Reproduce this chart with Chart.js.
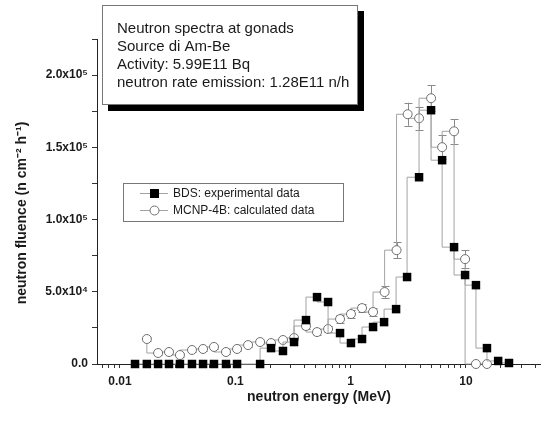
<!DOCTYPE html>
<html>
<head>
<meta charset="utf-8">
<script src="https://cdn.jsdelivr.net/npm/chart.js@4/dist/chart.umd.min.js"></script>
<style>
  html, body { margin: 0; padding: 0; background: #fff; }
  canvas { display: block; }
</style>
</head>
<body>
<canvas id="chart" width="541" height="423"></canvas>
<script>
// BDS: experimental data (black squares)
const bdsEnergy = [0.0135, 0.0171, 0.0214, 0.0266, 0.0331, 0.0421, 0.0525, 0.0653, 0.083, 0.1035,
  0.164, 0.204, 0.259, 0.323, 0.41, 0.511, 0.637, 0.809, 1.006, 1.255, 1.564, 1.949, 2.477,
  3.084, 3.918, 4.98, 6.21, 7.88, 9.82, 12.2, 15.2, 19.0, 23.6];
const bdsFluence = [0, 0, 0, 0, 0, 0, 0, 0, 0, 0,
  0, 11000, 9000, 15200, 30400, 46300, 42900, 21400, 14500, 17300, 25600, 29000, 38000,
  60200, 129300, 175700, 141100, 80900, 61600, 54600, 11000, 2100, 700];

// MCNP-4B: calculated data (open circles, with error bars)
const mcnpEnergy = [0.0171, 0.0214, 0.0266, 0.0331, 0.0421, 0.0525, 0.0653, 0.083, 0.1035, 0.129,
  0.164, 0.204, 0.259, 0.323, 0.41, 0.511, 0.637, 0.809, 1.006, 1.255, 1.564, 1.97, 2.5,
  3.12, 3.92, 4.98, 6.21, 7.88, 9.82, 12.2, 15.2];
const mcnpFluence = [17300, 7600, 8300, 6200, 9700, 10400, 11800, 8300, 10400, 13100,
  15200, 14500, 16600, 18000, 26300, 22100, 24200, 31100, 34600, 38700, 36000, 49800, 78800,
  172900, 170100, 184000, 150100, 161100, 72600, 0, 0];
const mcnpError = [1200, 1200, 1200, 1200, 1200, 1200, 1200, 1200, 1200, 1200,
  1200, 1500, 1500, 1500, 2000, 2000, 2000, 2500, 2500, 3000, 3000, 4000, 5500,
  8000, 8000, 9000, 8500, 8500, 6000, 0, 0];

const xMajorTicks = [0.01, 0.1, 1, 10];
const yMajorTicks = [0, 50000, 100000, 150000, 200000];
const yTickLabels = ['0.0', '5.0x10⁴', '1.0x10⁵', '1.5x10⁵', '2.0x10⁵'];

const infoLines = [
  'Neutron spectra at gonads',
  'Source di Am-Be',
  'Activity: 5.99E11 Bq',
  'neutron rate emission: 1.28E11 n/h'
];
const seriesNames = ['BDS: experimental data', 'MCNP-4B: calculated data'];
const xTitle = 'neutron energy (MeV)';
const yTitle = 'neutron fluence (n cm⁻² h⁻¹)';

const FONT = 'Liberation Sans, Arial, Helvetica, sans-serif';
const LINE_GREY = '#a3a3a3';
const CIRCLE_EDGE = '#6e6e6e';

// minor ticks for the log axis, 2..9 per decade
const xTickValues = [];
for (let d = -3; d <= 1; d++) {
  for (let m = 1; m <= 9; m++) {
    const v = m * Math.pow(10, d);
    if (v >= 0.0063 && v <= 44.7) xTickValues.push(+v.toPrecision(3));
  }
}

function isMajor(v) {
  return xMajorTicks.some(t => Math.abs(t - v) < t * 1e-6);
}

const errorBars = {
  id: 'errorBars',
  beforeDatasetDraw(chart, args) {
    if (args.index !== 1) return;
    const { ctx, scales: { x, y } } = chart;
    ctx.save();
    ctx.strokeStyle = '#8a8a8a';
    ctx.lineWidth = 1;
    mcnpEnergy.forEach((e, i) => {
      const err = mcnpError[i];
      if (!err) return;
      const px = Math.round(x.getPixelForValue(e)) + 0.5;
      const top = y.getPixelForValue(mcnpFluence[i] + err);
      const bot = y.getPixelForValue(mcnpFluence[i] - err);
      ctx.beginPath();
      ctx.moveTo(px, top);
      ctx.lineTo(px, bot);
      ctx.moveTo(px - 4, Math.round(top) + 0.5);
      ctx.lineTo(px + 4, Math.round(top) + 0.5);
      ctx.moveTo(px - 4, Math.round(bot) + 0.5);
      ctx.lineTo(px + 4, Math.round(bot) + 0.5);
      ctx.stroke();
    });
    ctx.restore();
  }
};

const decorations = {
  id: 'decorations',
  afterDraw(chart) {
    const ctx = chart.ctx;
    ctx.save();

    // y axis title
    ctx.translate(22, 213);
    ctx.rotate(-Math.PI / 2);
    ctx.font = 'bold 14px ' + FONT;
    ctx.fillStyle = '#1a1a1a';
    ctx.textAlign = 'center';
    ctx.textBaseline = 'middle';
    ctx.fillText(yTitle, 0, 0);
    ctx.setTransform(1, 0, 0, 1, 0, 0);

    // info box with drop shadow
    ctx.fillStyle = '#000';
    ctx.fillRect(108, 11, 256, 100);
    ctx.fillStyle = '#fff';
    ctx.fillRect(102, 5, 256, 100);
    ctx.strokeStyle = '#777';
    ctx.lineWidth = 1;
    ctx.strokeRect(102.5, 5.5, 255, 99);
    ctx.fillStyle = '#1a1a1a';
    ctx.font = '15px ' + FONT;
    ctx.textAlign = 'left';
    ctx.textBaseline = 'middle';
    infoLines.forEach((t, i) => ctx.fillText(t, 117, 29 + i * 18));

    // legend
    ctx.strokeStyle = '#777';
    ctx.strokeRect(123.5, 183.5, 220, 38);
    ctx.font = '12px ' + FONT;
    [193, 210].forEach((ly, i) => {
      ctx.strokeStyle = LINE_GREY;
      ctx.beginPath();
      ctx.moveTo(140, ly + 0.5);
      ctx.lineTo(168, ly + 0.5);
      ctx.stroke();
      if (i === 0) {
        ctx.fillStyle = '#000';
        ctx.fillRect(150, ly - 4, 9, 9);
      } else {
        ctx.fillStyle = '#fff';
        ctx.strokeStyle = CIRCLE_EDGE;
        ctx.beginPath();
        ctx.arc(154.5, ly + 0.5, 4.5, 0, Math.PI * 2);
        ctx.fill();
        ctx.stroke();
      }
      ctx.fillStyle = '#1a1a1a';
      ctx.fillText(seriesNames[i], 173, ly + 1);
    });
    ctx.restore();
  }
};

new Chart(document.getElementById('chart'), {
  type: 'line',
  data: {
    datasets: [
      {
        label: seriesNames[0],
        data: bdsEnergy.map((e, i) => ({ x: e, y: bdsFluence[i] })),
        stepped: 'after',
        borderColor: LINE_GREY,
        borderWidth: 1,
        pointStyle: 'rect',
        pointRadius: 6,
        pointBackgroundColor: '#000',
        pointBorderColor: '#000',
        pointBorderWidth: 0,
        clip: false
      },
      {
        label: seriesNames[1],
        data: mcnpEnergy.map((e, i) => ({ x: e, y: mcnpFluence[i] })),
        stepped: 'after',
        borderColor: LINE_GREY,
        borderWidth: 1,
        pointStyle: 'circle',
        pointRadius: 4.5,
        pointBackgroundColor: '#fff',
        pointBorderColor: CIRCLE_EDGE,
        pointBorderWidth: 1,
        clip: false
      }
    ]
  },
  options: {
    responsive: false,
    animation: false,
    devicePixelRatio: 1,
    layout: { autoPadding: false, padding: { top: 39, right: 0, left: 0, bottom: 0 } },
    plugins: {
      legend: { display: false },
      tooltip: { enabled: false }
    },
    scales: {
      x: {
        type: 'logarithmic',
        min: 0.00632,
        max: 44.7,
        afterBuildTicks: axis => {
          axis.ticks = xTickValues.map(v => ({ value: v, major: isMajor(v) }));
        },
        afterFit: s => { s.height = 59; s.paddingLeft = 0; s.paddingRight = 0; },
        grid: { drawOnChartArea: false, tickLength: 4, color: '#333', tickColor: '#333' },
        border: { display: true, color: '#222', width: 1 },
        ticks: {
          autoSkip: false,
          maxRotation: 0,
          padding: 6,
          color: '#1a1a1a',
          font: { family: FONT, size: 12, weight: 'bold' },
          callback: v => (isMajor(v) ? String(+v.toPrecision(3)) : '')
        },
        title: {
          display: true,
          text: xTitle,
          color: '#1a1a1a',
          font: { family: FONT, size: 14, weight: 'bold' },
          padding: { top: 0, bottom: 17 }
        }
      },
      y: {
        type: 'linear',
        min: 0,
        max: 225000,
        afterFit: s => { s.width = 97; s.paddingTop = 0; s.paddingBottom = 0; },
        grid: { drawOnChartArea: false, tickLength: 5, color: '#333', tickColor: '#333' },
        border: { display: true, color: '#222', width: 1 },
        ticks: {
          stepSize: 25000,
          padding: 4,
          color: '#1a1a1a',
          font: { family: FONT, size: 12, weight: 'bold' },
          callback: v => {
            const i = yMajorTicks.indexOf(v);
            return i >= 0 ? yTickLabels[i] : '';
          }
        }
      }
    }
  },
  plugins: [errorBars, decorations]
});
</script>
</body>
</html>
